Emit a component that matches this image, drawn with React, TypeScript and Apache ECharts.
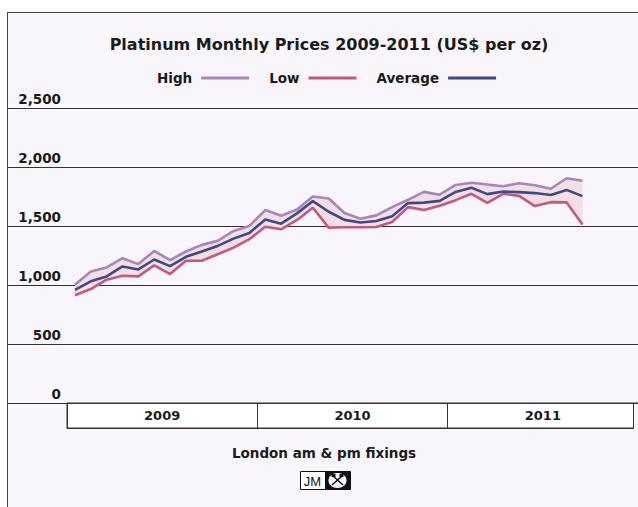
import React, { useEffect, useRef } from "react";
import * as echarts from "echarts";

const monthNames = ["Jan", "Feb", "Mar", "Apr", "May", "Jun", "Jul", "Aug", "Sep", "Oct", "Nov", "Dec"];
const years = ["2009", "2010", "2011"];
const yTicks = [0, 500, 1000, 1500, 2000, 2500];

// Jan 2009 .. Sep 2011 (US$ per oz)
const high = [1003, 1115, 1149, 1227, 1177, 1289, 1211, 1284, 1340, 1374, 1458, 1500,
  1635, 1587, 1640, 1750, 1733, 1610, 1561, 1590, 1660, 1722, 1789, 1765,
  1848, 1867, 1851, 1837, 1862, 1845, 1816, 1905, 1884];
const low = [913, 966, 1045, 1078, 1073, 1166, 1093, 1205, 1205, 1261, 1317, 1388,
  1494, 1472, 1551, 1655, 1486, 1490, 1490, 1492, 1534, 1660, 1635, 1671,
  1719, 1773, 1696, 1773, 1755, 1669, 1702, 1700, 1512];
const average = [958, 1031, 1073, 1157, 1132, 1216, 1160, 1239, 1284, 1331, 1393, 1441,
  1556, 1520, 1607, 1711, 1621, 1552, 1530, 1542, 1583, 1694, 1698, 1713,
  1789, 1824, 1770, 1792, 1787, 1779, 1762, 1806, 1753];

const FONT = "DejaVu Sans";
const BG = "#f8f6fa";
const INK = "#1a1a1a";

export default function App() {
  const ref = useRef<HTMLDivElement>(null);
  useEffect(() => {
    if (!ref.current) return;
    const chart = echarts.init(ref.current, undefined, { renderer: "svg" });
    const categories: string[] = [];
    years.forEach((y) => monthNames.forEach((m) => categories.push(m + " " + y)));
    const band = high.map((h, i) => h - low[i]);

    chart.setOption({
      animation: false,
      backgroundColor: "transparent",
      textStyle: { fontFamily: FONT },
      title: {
        text: "Platinum Monthly Prices 2009-2011 (US$ per oz)",
        left: 324,
        textAlign: "center",
        top: 31,
        textStyle: { fontFamily: FONT, fontWeight: "bold", fontSize: 16, color: INK },
      },
      legend: {
        data: ["High", "Low", "Average"],
        left: 152,
        top: 66,
        align: "right",
        icon: "rect",
        itemWidth: 48,
        itemHeight: 3,
        itemGap: 20,
        textStyle: { fontFamily: FONT, fontWeight: "bold", fontSize: 13.5, color: INK, padding: [0, 4, 0, 0] },
      },
      grid: [
        { left: 8, right: 0, top: 108, height: 295 },
        { left: 67, width: 572, top: 108, height: 295 },
        { left: 67, width: 572, top: 403, height: 25, show: true, backgroundColor: "#ffffff", borderColor: "#333", borderWidth: 1 },
      ],
      xAxis: [
        { gridIndex: 0, type: "value", min: 0, max: 1, show: false },
        { gridIndex: 1, type: "category", data: categories, boundaryGap: true, show: false },
        {
          gridIndex: 2,
          type: "category",
          data: years,
          boundaryGap: true,
          axisLine: { show: true, lineStyle: { color: "#333", width: 1 } },
          axisTick: { show: true, inside: true, length: 25, interval: 0, lineStyle: { color: "#333", width: 1 } },
          axisLabel: {
            inside: true,
            margin: 13,
            verticalAlign: "middle",
            fontFamily: FONT,
            fontWeight: "bold",
            fontSize: 13,
            color: INK,
          },
        },
      ],
      yAxis: [
        {
          gridIndex: 0,
          type: "value",
          min: yTicks[0],
          max: yTicks[yTicks.length - 1],
          interval: 500,
          axisLine: { show: false },
          axisTick: { show: false },
          splitLine: { show: true, lineStyle: { color: "#333", width: 1 } },
          axisLabel: {
            inside: true,
            margin: 53,
            align: "right",
            verticalAlign: "bottom",
            padding: [0, 0, 2, 0],
            fontFamily: FONT,
            fontWeight: "bold",
            fontSize: 13.5,
            color: INK,
            formatter: (v: number) => v.toLocaleString("en-US"),
          },
        },
        { gridIndex: 1, type: "value", min: 0, max: 2500, show: false, splitLine: { show: false } },
        { gridIndex: 2, type: "value", show: false, splitLine: { show: false } },
      ],
      series: [
        {
          name: "lowBase",
          type: "line",
          xAxisIndex: 1,
          yAxisIndex: 1,
          data: low,
          stack: "band",
          symbol: "none",
          silent: true,
          lineStyle: { opacity: 0 },
          z: 1,
        },
        {
          name: "band",
          type: "line",
          xAxisIndex: 1,
          yAxisIndex: 1,
          data: band,
          stack: "band",
          symbol: "none",
          silent: true,
          lineStyle: { opacity: 0 },
          areaStyle: { color: "#f2dfe4", opacity: 1 },
          z: 1,
        },
        {
          name: "High",
          type: "line",
          xAxisIndex: 1,
          yAxisIndex: 1,
          data: high,
          symbol: "none",
          color: "#a986ba",
          lineStyle: { color: "#a986ba", width: 2.6 },
          z: 3,
        },
        {
          name: "Low",
          type: "line",
          xAxisIndex: 1,
          yAxisIndex: 1,
          data: low,
          symbol: "none",
          color: "#c5587c",
          lineStyle: { color: "#c5587c", width: 2.6 },
          z: 4,
        },
        {
          name: "Average",
          type: "line",
          xAxisIndex: 1,
          yAxisIndex: 1,
          data: average,
          symbol: "none",
          color: "#3d4a87",
          lineStyle: { color: "#3d4a87", width: 2.6 },
          z: 5,
        },
      ],
      graphic: [
        { type: "rect", shape: { x: 633.5, y: 404, width: 8, height: 26 }, style: { fill: BG }, z: 100 },
        { type: "line", shape: { x1: 633.5, y1: 403, x2: 633.5, y2: 428.5 }, style: { stroke: "#333", lineWidth: 1 }, z: 101 },
        {
          type: "text",
          x: 324,
          y: 453,
          style: {
            text: "London am & pm fixings",
            fontFamily: FONT,
            fontWeight: "bold",
            fontSize: 13.5,
            fill: INK,
            align: "center",
            verticalAlign: "middle",
          },
          z: 100,
        },
        {
          type: "group",
          x: 300,
          y: 471,
          z: 100,
          children: [
            { type: "rect", shape: { x: 0.5, y: 0.5, width: 50, height: 18 }, style: { fill: "#fff", stroke: "#111", lineWidth: 1 } },
            { type: "rect", shape: { x: 25, y: 0.5, width: 25.5, height: 18 }, style: { fill: "#111" } },
            {
              type: "text",
              x: 12.5,
              y: 10,
              style: { text: "JM", fontFamily: "Liberation Sans", fontSize: 13, fill: "#111", align: "center", verticalAlign: "middle" },
            },
            { type: "ellipse", shape: { cx: 37.5, cy: 9.5, rx: 9, ry: 7.5 }, style: { fill: "#fff" } },
            { type: "line", shape: { x1: 32, y1: 14, x2: 42, y2: 5 }, style: { stroke: "#111", lineWidth: 1.6 } },
            { type: "line", shape: { x1: 33, y1: 5, x2: 43, y2: 14 }, style: { stroke: "#111", lineWidth: 1.6 } },
            { type: "rect", shape: { x: 39.5, y: 3, width: 4, height: 3 }, style: { fill: "#111" } },
            { type: "rect", shape: { x: 31.5, y: 3, width: 4, height: 3 }, style: { fill: "#111" } },
          ],
        },
      ],
    });
    return () => chart.dispose();
  }, []);

  return (
    <div style={{ position: "absolute", left: 0, top: 0, width: 638, height: 507, overflow: "hidden", background: "#fff" }}>
      <div
        style={{
          position: "absolute",
          left: 7,
          top: 12,
          width: 640,
          height: 500,
          background: BG,
          borderLeft: "1px solid #444",
          borderTop: "1px solid #444",
        }}
      />
      <div ref={ref} style={{ position: "absolute", left: 0, top: 0, width: 638, height: 507 }} />
    </div>
  );
}
